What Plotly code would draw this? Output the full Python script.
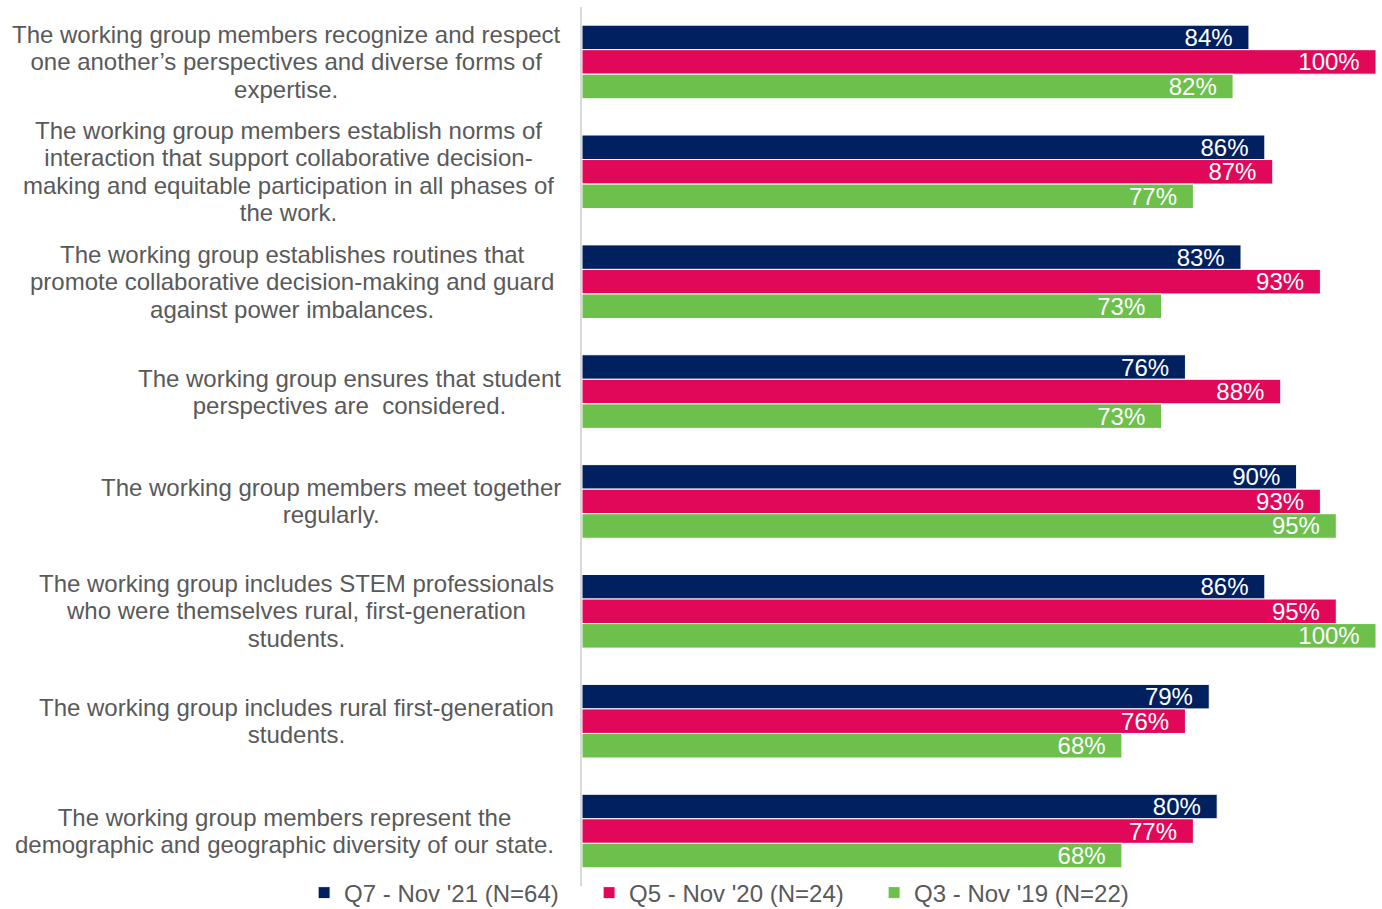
import plotly.graph_objects as go

# Survey statements (one entry per line of the wrapped label)
statements = [
    ["The working group members recognize and respect",
     "one another’s perspectives and diverse forms of",
     "expertise."],
    ["The working group members establish norms of",
     "interaction that support collaborative decision-",
     "making and equitable participation in all phases of",
     "the work."],
    ["The working group establishes routines that",
     "promote collaborative decision-making and guard",
     "against power imbalances."],
    ["The working group ensures that student",
     "perspectives are \u00a0considered."],
    ["The working group members meet together",
     "regularly."],
    ["The working group includes STEM professionals",
     "who were themselves rural, first-generation",
     "students."],
    ["The working group includes rural first-generation",
     "students."],
    ["The working group members represent the",
     "demographic and geographic diversity of our state."],
]

series_names = ["Q7 - Nov '21 (N=64)", "Q5 - Nov '20 (N=24)", "Q3 - Nov '19 (N=22)"]
q7_nov21 = [84, 86, 83, 76, 90, 86, 79, 80]
q5_nov20 = [100, 87, 93, 88, 93, 95, 76, 77]
q3_nov19 = [82, 77, 73, 73, 95, 100, 68, 68]

colors = ["#002060", "#E1085A", "#6CC04B"]
text_gray = "#595959"
font_family = "Liberation Sans, Arial, sans-serif"

categories = [" ".join(lines) for lines in statements]

fig = go.Figure()
for name, vals, col in zip(series_names, [q7_nov21, q5_nov20, q3_nov19], colors):
    fig.add_trace(go.Bar(
        y=categories,
        x=vals,
        name=name,
        orientation="h",
        marker=dict(color=col, line=dict(color="white", width=1)),
        texttemplate="%{x}%\u00a0\u00a0",
        textposition="inside",
        insidetextanchor="end",
        constraintext="none",
        textfont=dict(color="white", size=24, family=font_family),
        cliponaxis=False,
    ))

# Category labels: centred multi-line text, right-aligned against the axis
label_xshift = [0, -7, -7, 0, 0, -7, -7, -7]
for cat, lines, dx in zip(categories, statements, label_xshift):
    txt = "<br>".join(f'<span style="font-size:24px">{ln}</span>' for ln in lines)
    fig.add_annotation(
        x=0, xref="paper", xanchor="right", xshift=-19 + dx,
        y=cat, yref="y", yanchor="middle",
        text=txt, align="center", showarrow=False,
        font=dict(size=21.15, color=text_gray, family=font_family),
    )

fig.update_layout(
    width=1382, height=909,
    margin=dict(l=582, r=6, t=7, b=23, autoexpand=False),
    paper_bgcolor="white", plot_bgcolor="white",
    barmode="group", bargap=0.33, bargroupgap=0,
    showlegend=True,
    legend=dict(
        orientation="h", x=-0.35, xanchor="left", y=-0.008, yanchor="middle",
        font=dict(size=24, color=text_gray, family=font_family),
        entrywidth=240, traceorder="normal",
        bgcolor="rgba(0,0,0,0)",
    ),
    xaxis=dict(range=[0, 100], visible=False, fixedrange=True),
    yaxis=dict(
        autorange="reversed", showticklabels=False, ticks="",
        showline=True, linecolor="#D9D9D9", linewidth=1.5,
        showgrid=False, zeroline=False,
    ),
    uniformtext=dict(mode=False),
)

fig.write_html("out.html")
